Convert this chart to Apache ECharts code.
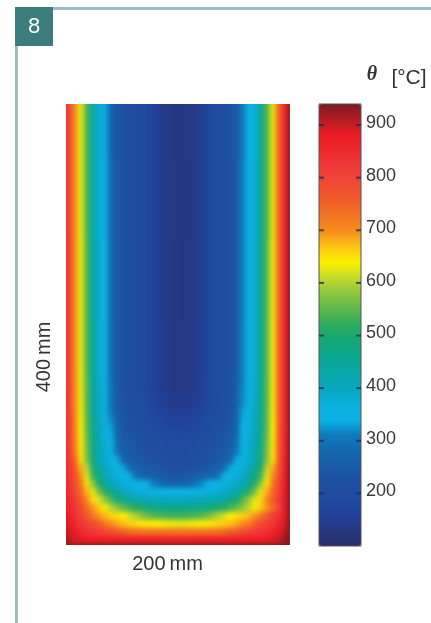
<!DOCTYPE html>
<html><head><meta charset="utf-8">
<style>html,body{margin:0;padding:0;background:#fff}#c{width:431px;height:623px}</style>
<script src="https://cdn.jsdelivr.net/npm/echarts@6/dist/echarts.min.js"></script>
</head><body><div id="c"></div>
<script>
// Colour scale, evenly spaced from 100 to 940 in steps of 30
const scaleMin = 100, scaleMax = 940;
const scaleColors = ['#2b2d6e','#263781','#21409a','#1f4ba0','#1f4fa0','#1a5ba6','#1467ad','#0e7abb','#0db4e6','#0aafdc','#08a6bc','#09a6a6','#0ca78f','#13a977','#2bac5e','#5fb84c','#8cc63f','#c4da2a','#fff200','#fbc015','#f68b1f','#f37324','#f15a29','#ef4a32','#ee3a3a','#ed2b2f','#ed1c24','#b41c22','#7a1a20'];
const scaleTicks = [200,300,400,500,600,700,800,900];
// Temperature rows: [number of rows at this reading, values left to right]
const rowsUpper = [
[8,[850,810,700,630,540,440,380,335,280,240,225,215,205,195,180,165,150,140,135,132,130,135,140,150,170,190,205,215,225,250,310,345,375,450,540,630,750,860,940]],
[10,[850,810,700,630,540,440,380,338,285,240,225,215,205,195,180,165,150,140,134,132,130,134,140,150,170,190,205,215,225,250,312,345,378,452,540,630,750,860,940]],
[10,[850,810,702,632,542,445,385,342,288,242,225,215,205,195,180,165,150,140,135,132,131,135,140,150,170,190,205,215,225,250,312,347,380,450,542,632,750,860,940]],
[7,[850,810,702,632,542,447,387,345,290,243,225,215,205,195,180,165,151,141,136,133,132,136,141,151,171,190,205,215,225,250,314,348,382,450,544,634,752,860,940]],
[2,[850,810,705,632,544,448,390,350,295,245,225,215,205,195,180,165,152,142,137,134,133,137,142,152,172,190,205,215,225,250,315,350,385,450,545,634,752,860,940]],
[2,[850,812,708,634,545,450,393,355,300,250,228,218,208,198,185,172,160,150,146,144,143,146,150,160,175,192,208,218,228,255,320,355,390,450,546,635,755,860,940]]
];
const rowsCorner = [
[1,[850,812,710,635,546,452,396,360,310,255,232,222,212,202,190,180,170,160,155,153,152,155,160,170,182,198,212,222,232,262,330,360,396,452,546,636,755,860,940]],
[1,[850,815,712,638,548,455,400,365,320,262,236,226,216,208,198,188,178,170,166,164,163,166,170,178,190,205,216,226,236,270,335,365,400,455,548,638,755,860,940]],
[1,[855,815,715,640,550,458,405,370,330,270,240,230,222,214,205,197,188,180,176,174,173,176,180,188,198,212,222,230,240,280,340,370,405,458,550,640,758,860,940]],
[1,[855,818,720,642,555,462,410,375,335,280,245,235,227,220,212,205,197,190,186,184,183,186,190,197,206,218,227,235,245,290,345,375,410,462,555,642,758,862,940]],
[1,[858,818,722,645,560,468,415,380,345,290,250,240,232,226,219,213,206,200,196,194,193,196,200,206,214,224,232,240,252,300,348,380,415,468,560,645,760,862,940]],
[1,[858,818,725,648,565,475,418,385,358,300,258,245,238,232,226,220,214,208,204,202,201,204,208,214,221,230,238,245,260,310,350,385,418,475,565,648,762,865,940]],
[1,[860,820,750,650,570,480,420,385,360,335,280,252,243,238,232,227,222,216,212,210,209,212,216,222,228,236,243,252,280,335,360,385,420,480,570,650,765,865,940]],
[1,[865,825,775,680,605,500,440,400,372,355,335,295,265,252,245,240,235,228,222,220,219,222,228,235,240,252,265,295,335,355,372,400,440,500,605,680,775,870,940]],
[1,[870,830,780,700,625,530,470,420,390,368,352,340,305,280,265,255,250,246,240,235,238,245,250,255,265,280,305,340,352,368,390,420,470,530,625,700,785,870,940]],
[1,[875,838,790,725,650,580,510,455,415,392,375,362,352,345,335,315,295,280,270,265,268,278,295,315,335,345,352,362,375,392,415,455,510,580,650,725,795,875,940]]
];
const rowsBottom = [
[1,[880,845,800,745,680,625,570,515,470,430,405,390,378,365,358,352,347,343,340,340,340,343,347,352,358,365,378,390,405,430,470,515,570,625,680,745,805,880,940]],
[1,[885,855,815,760,705,655,625,585,545,500,470,445,430,420,412,406,403,401,400,400,400,401,403,406,412,420,430,445,470,500,545,585,625,655,705,760,820,885,940]],
[1,[890,865,825,795,740,695,665,635,605,580,555,535,515,503,490,478,470,464,461,460,460,461,464,470,478,490,503,515,535,555,580,605,635,665,695,740,800,885,940]],
[1,[895,875,840,805,765,725,695,675,660,650,640,620,600,580,560,545,538,533,530,530,530,533,538,545,560,580,600,620,640,650,660,675,695,725,765,805,840,885,940]],
[1,[900,885,860,830,805,790,760,725,700,685,672,662,655,648,644,642,640,635,632,630,630,632,635,640,644,648,655,662,672,685,700,725,760,790,805,830,860,895,940]],
[1,[905,895,875,855,835,818,808,798,785,770,755,745,738,734,732,731,730,730,730,730,730,730,730,731,732,735,740,748,758,772,788,802,812,822,840,860,880,905,940]],
[1,[925,905,890,885,880,878,876,875,875,875,875,875,875,875,875,875,875,875,875,875,875,875,875,875,875,875,875,875,875,875,875,875,876,878,882,888,900,925,940]],
[1,[940,940,940,940,940,940,940,940,940,940,940,940,940,940,940,940,940,940,940,940,940,940,940,940,940,940,940,940,940,940,940,940,940,940,940,940,940,940,940]]
];
const widthLabel = '200\u2009mm';
const heightLabel = '400\u2009mm';
const unitLabel = '[°C]';
const symbolLabel = 'θ';
const figureNumber = '8';

const cells = [];
let rowIndex = 0;
rowsUpper.concat(rowsCorner, rowsBottom).forEach(([count, values], k) => {
  if (values.length !== 39) throw new Error('row ' + k + ' has ' + values.length);
  for (let n = 0; n < count; n++) {
    values.forEach((v, col) => cells.push([col, rowIndex, v]));
    rowIndex++;
  }
});
const colCats = Array.from({length: 39}, (_, i) => String(i));
const rowCats = Array.from({length: rowIndex}, (_, i) => String(i));
const tickMarks = scaleTicks.flatMap(v => [[0.06, v], [0.94, v]]);

const chart = echarts.init(document.getElementById('c'), null, {renderer: 'canvas'});
const teal = '#3a7d7c', rule = '#9dbfbf', ink = '#333';
chart.setOption({
  animation: false,
  backgroundColor: '#fff',
  grid: [
    {left: 60, top: 96, width: 234, height: 456, show: false},
    {left: 319, top: 104, width: 42, height: 442, show: true, borderColor: '#555', borderWidth: 1, backgroundColor: 'transparent', zlevel: 2}
  ],
  xAxis: [
    {type: 'category', gridIndex: 0, data: colCats, show: false},
    {type: 'value', gridIndex: 1, show: false, min: 0, max: 1}
  ],
  yAxis: [
    {type: 'category', gridIndex: 0, data: rowCats, inverse: true, show: false},
    {type: 'value', gridIndex: 1, min: scaleMin, max: scaleMax, interval: 100, position: 'right', zlevel: 2,
     splitLine: {show: false}, axisLine: {show: false}, axisTick: {show: false},
     axisLabel: {show: true, showMinLabel: false, showMaxLabel: false, margin: 5,
       formatter: v => scaleTicks.includes(v) ? '{t|' + v + '}' : '',
       rich: {t: {color: '#3a3a3a', fontFamily: 'Liberation Sans', fontSize: 18, padding: [0, 0, 4, 0]}}}}
  ],
  visualMap: {
    type: 'continuous', seriesIndex: 0, min: scaleMin, max: scaleMax, calculable: false, realtime: false,
    left: 319, top: 104, itemWidth: 42, itemHeight: 442, padding: 0, orient: 'vertical',
    inRange: {color: scaleColors}, text: null, hoverLink: false
  },
  series: [
    {type: 'heatmap', xAxisIndex: 0, yAxisIndex: 0, data: cells, zlevel: 1, silent: true, progressive: 0, itemStyle: {borderWidth: 0}},
    {type: 'scatter', xAxisIndex: 1, yAxisIndex: 1, data: tickMarks, zlevel: 2, silent: true, symbol: 'rect', symbolSize: [5, 2], itemStyle: {color: '#1c2a55', opacity: 0.75}}
  ],
  graphic: [
    {type: 'rect', shape: {x: 53, y: 7, width: 378, height: 3}, style: {fill: rule}, silent: true},
    {type: 'rect', shape: {x: 15, y: 46, width: 3, height: 577}, style: {fill: rule}, silent: true},
    {type: 'rect', shape: {x: 15, y: 7, width: 38, height: 39}, style: {fill: teal}, silent: true},
    {type: 'text', x: 34, y: 27, style: {text: figureNumber, fill: '#fff', font: '22px "Liberation Sans"', align: 'center', verticalAlign: 'middle'}, silent: true},
    {type: 'text', x: 372, y: 75, style: {text: symbolLabel, fill: ink, font: 'italic bold 20px "Liberation Serif"', align: 'center', verticalAlign: 'middle'}, silent: true},
    {type: 'text', x: 409, y: 78, style: {text: unitLabel, fill: ink, font: '21px "Liberation Sans"', align: 'center', verticalAlign: 'middle'}, silent: true},
    {type: 'text', x: 167.5, y: 564, style: {text: widthLabel, fill: ink, font: '20px "Liberation Sans"', align: 'center', verticalAlign: 'middle'}, silent: true},
    {type: 'text', x: 44, y: 357, rotation: Math.PI / 2, style: {text: heightLabel, fill: ink, font: '20px "Liberation Sans"', align: 'center', verticalAlign: 'middle'}, silent: true}
  ]
});
function soften() {
  const field = chart.getDom().querySelector('canvas[data-zr-dom-id="zr_1"]');
  if (field) {
    field.style.filter = 'blur(2.5px)';
    field.style.clipPath = 'polygon(66px 104px, 289.5px 104px, 289.5px 544.5px, 66px 544.5px)';
  }
  ['zr_0', 'zr_2'].forEach(id => {
    const c = chart.getDom().querySelector('canvas[data-zr-dom-id="' + id + '"]');
    if (c) c.style.filter = 'blur(0.4px)';
  });
}
chart.on('finished', soften);
soften();
</script></body></html>
